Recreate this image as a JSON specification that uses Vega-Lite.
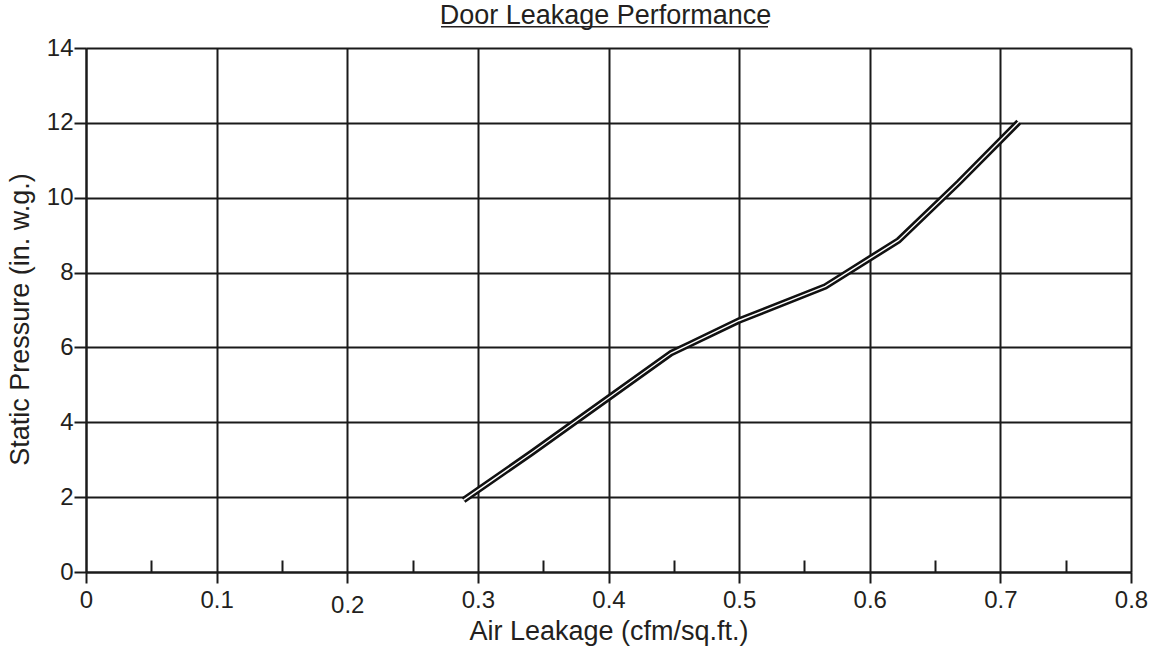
{
  "$schema": "https://vega.github.io/schema/vega-lite/v6.json",
  "width": 1045,
  "height": 524,
  "autosize": {"type": "none"},
  "padding": {"left": 86, "top": 48, "right": 22, "bottom": 75},
  "background": "white",
  "config": {
    "view": {"stroke": null},
    "font": "Liberation Sans",
    "axis": {"labelFont": "Liberation Sans", "titleFont": "Liberation Sans", "labelColor": "#231f20", "titleColor": "#231f20", "titleFontWeight": "normal"}
  },
  "title": {
    "text": "Door Leakage Performance",
    "font": "Liberation Sans",
    "fontSize": 27,
    "fontWeight": "normal",
    "color": "#231f20",
    "anchor": "middle",
    "dx": -3,
    "offset": -4
  },
  "data": {
    "values": [
      {"leak": 0.289, "pressure": 1.92},
      {"leak": 0.341, "pressure": 3.18},
      {"leak": 0.448, "pressure": 5.85},
      {"leak": 0.462, "pressure": 6.08},
      {"leak": 0.5, "pressure": 6.72},
      {"leak": 0.566, "pressure": 7.63},
      {"leak": 0.622, "pressure": 8.86},
      {"leak": 0.668, "pressure": 10.4},
      {"leak": 0.714, "pressure": 12.02}
    ]
  },
  "layer": [
    {
      "mark": {"type": "line", "color": "#111111", "strokeWidth": 6.5, "strokeJoin": "miter"},
      "encoding": {
        "x": {
          "field": "leak", "type": "quantitative",
          "scale": {"domain": [0, 0.8], "nice": false, "zero": false},
          "axis": {
            "title": "Air Leakage (cfm/sq.ft.)",
            "titleFontSize": 27,
            "titlePadding": 1,
            "values": [0, 0.05, 0.1, 0.15, 0.2, 0.25, 0.3, 0.35, 0.4, 0.45, 0.5, 0.55, 0.6, 0.65, 0.7, 0.75, 0.8],
            "format": ".1~f",
            "labelExpr": "round(datum.value*20) % 2 == 1 ? '' : datum.label",
            "labelFontSize": 24,
            "labelPadding": {"condition": {"test": "abs(datum.value - 0.2) < 0.001", "value": 10}, "value": 5},
            "labelFlush": false,
            "labelOverlap": false,
            "tickSize": {"condition": {"test": "round(datum.value*20) % 2 == 1", "value": -12}, "value": 11},
            "tickColor": "#1a1a1a",
            "tickWidth": 2,
            "grid": true,
            "gridColor": "#1a1a1a",
            "gridWidth": 2,
            "gridOpacity": {"condition": {"test": "round(datum.value*20) % 2 == 1", "value": 0}, "value": 1},
            "domainColor": "#1a1a1a",
            "domainWidth": 2
          }
        },
        "y": {
          "field": "pressure", "type": "quantitative",
          "scale": {"domain": [0, 14], "nice": false},
          "axis": {
            "title": "Static Pressure (in. w.g.)",
            "titleFontSize": 27,
            "titlePadding": 12,
            "titleY": 271,
            "values": [0, 1, 2, 3, 4, 5, 6, 7, 8, 9, 10, 11, 12, 13, 14],
            "format": "d",
            "labelExpr": "datum.value % 2 == 1 ? '' : datum.label",
            "labelFontSize": 24,
            "labelPadding": 1,
            "labelOverlap": false,
            "labelFlush": false,
            "tickSize": {"condition": {"test": "datum.value % 2 == 1", "value": -12}, "value": 12},
            "tickColor": "#1a1a1a",
            "tickWidth": 2,
            "grid": true,
            "gridColor": "#1a1a1a",
            "gridWidth": 2,
            "gridOpacity": {"condition": {"test": "datum.value % 2 == 1", "value": 0}, "value": 1},
            "domainColor": "#1a1a1a",
            "domainWidth": 2
          }
        }
      }
    },
    {
      "mark": {"type": "line", "color": "white", "strokeWidth": 1.4, "strokeJoin": "miter"},
      "encoding": {
        "x": {"field": "leak", "type": "quantitative"},
        "y": {"field": "pressure", "type": "quantitative"}
      }
    },
    {
      "data": {"values": [{}]},
      "mark": {"type": "rule", "color": "#231f20", "strokeWidth": 1.5, "clip": false},
      "encoding": {
        "x": {"datum": 0.2718},
        "x2": {"datum": 0.5221},
        "y": {"datum": 14.57}
      }
    }
  ]
}
